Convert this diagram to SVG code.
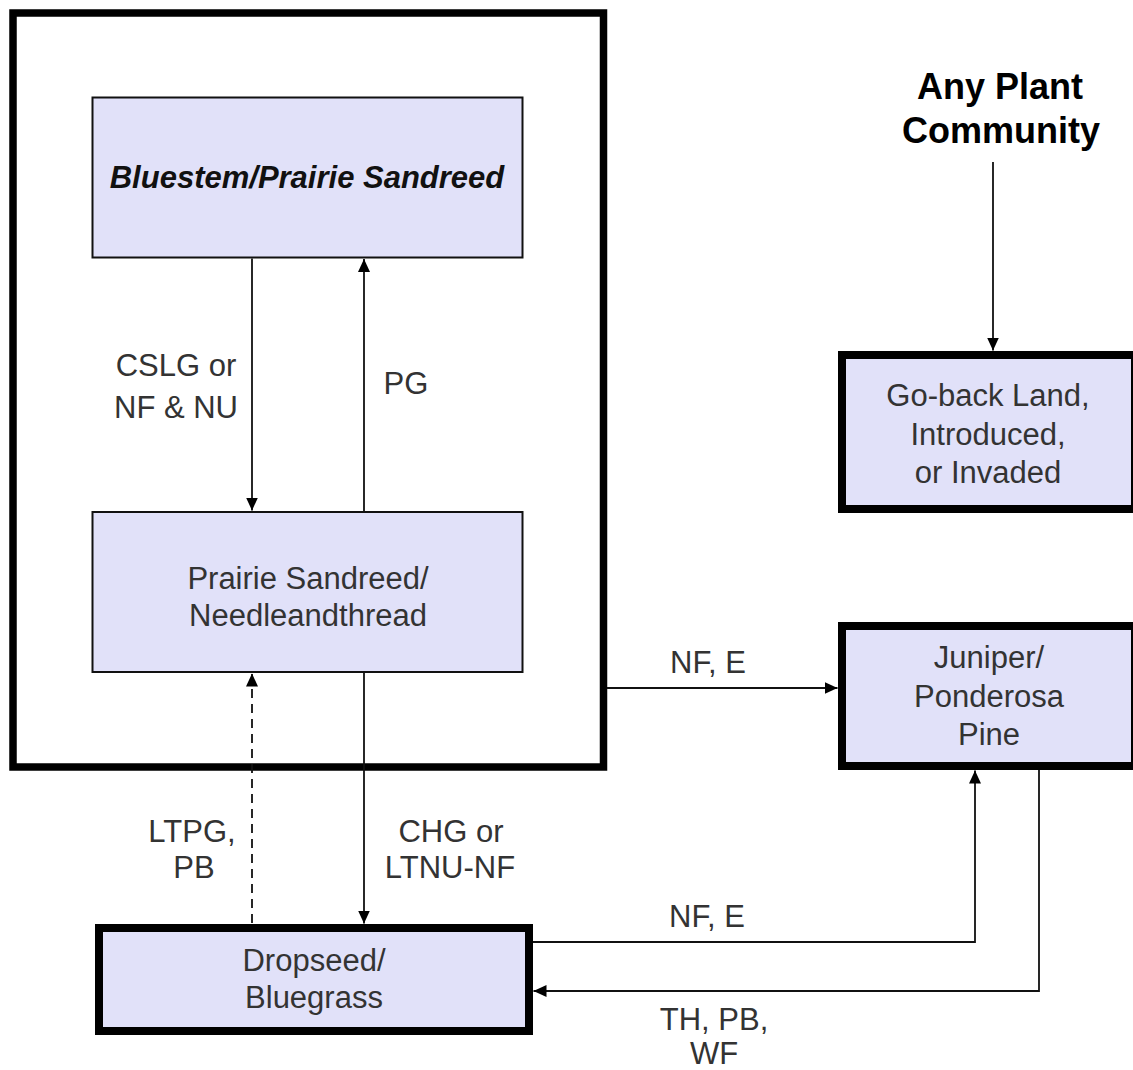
<svg xmlns="http://www.w3.org/2000/svg" width="1133" height="1070" viewBox="0 0 1133 1070">
  <style>
    .box { fill: #e1e1f9; stroke: #111; stroke-width: 2; }
    .thick { fill: #e1e1f9; stroke: #000; stroke-width: 8; }
    .frame { fill: none; stroke: #000; stroke-width: 7.5; }
    .lbl { font-family: "Liberation Sans", Arial, sans-serif; font-size: 31px; fill: #333; text-anchor: middle; }
    .title { font-family: "Liberation Sans", Arial, sans-serif; font-size: 36px; font-weight: bold; fill: #000; text-anchor: middle; }
    .it { font-style: italic; font-weight: bold; fill: #111; }
    .conn { fill: none; stroke: #111; stroke-width: 1.8; }
    .dash { stroke-dasharray: 9 6; }
  </style>
  <defs>
    <marker id="arrow" markerUnits="userSpaceOnUse" markerWidth="14" markerHeight="14" viewBox="0 0 14 14" refX="13" refY="7" orient="auto">
      <path d="M0,1 L13,7 L0,13 Z" fill="#000"/>
    </marker>
  </defs>
  <rect width="1133" height="1070" fill="#fff"/>

  <!-- state boundary around the reference communities -->
  <g id="state-frame">
    <rect class="frame" x="13" y="13" width="590.5" height="754"/>
  </g>

  <g id="bluestem">
    <rect class="box" x="92.5" y="97.5" width="430" height="160"/>
    <text class="lbl it" x="307" y="188">Bluestem/Prairie Sandreed</text>
  </g>

  <g id="prairie-sandreed">
    <rect class="box" x="92.5" y="512" width="430" height="160"/>
    <text class="lbl" x="308" y="589">Prairie Sandreed/</text>
    <text class="lbl" x="308" y="626">Needleandthread</text>
  </g>

  <g id="dropseed">
    <rect class="thick" x="99" y="928" width="430" height="103"/>
    <text class="lbl" x="314" y="971">Dropseed/</text>
    <text class="lbl" x="314" y="1008">Bluegrass</text>
  </g>

  <g id="any-plant">
    <text class="title" x="1000" y="99">Any Plant</text>
    <text class="title" x="1001" y="143">Community</text>
  </g>

  <g id="go-back">
    <rect class="thick" x="842" y="355" width="293" height="154"/>
    <text class="lbl" x="988" y="406">Go-back Land,</text>
    <text class="lbl" x="988" y="445">Introduced,</text>
    <text class="lbl" x="988" y="483">or Invaded</text>
  </g>

  <g id="juniper">
    <rect class="thick" x="842" y="626" width="293" height="140"/>
    <text class="lbl" x="989" y="668">Juniper/</text>
    <text class="lbl" x="989" y="707">Ponderosa</text>
    <text class="lbl" x="989" y="745">Pine</text>
  </g>

  <g id="connectors">
    <line class="conn" x1="252" y1="258.5" x2="252" y2="510.5" marker-end="url(#arrow)"/>
    <line class="conn" x1="364" y1="511" x2="364" y2="259" marker-end="url(#arrow)"/>
    <line class="conn" x1="364" y1="673" x2="364" y2="923.5" marker-end="url(#arrow)"/>
    <line class="conn dash" x1="252" y1="923" x2="252" y2="673.5" marker-end="url(#arrow)"/>
    <line class="conn" x1="607" y1="688" x2="837.5" y2="688" marker-end="url(#arrow)"/>
    <line class="conn" x1="993" y1="162" x2="993" y2="350.5" marker-end="url(#arrow)"/>
    <polyline class="conn" points="533,942 975,942 975,770.5" marker-end="url(#arrow)"/>
    <polyline class="conn" points="1039,770 1039,991 533.5,991" marker-end="url(#arrow)"/>
  </g>

  <g id="labels">
    <text class="lbl" x="176" y="376">CSLG or</text>
    <text class="lbl" x="176" y="418">NF &amp; NU</text>
    <text class="lbl" x="406" y="394">PG</text>
    <text class="lbl" x="192" y="842">LTPG,</text>
    <text class="lbl" x="194" y="878">PB</text>
    <text class="lbl" x="451" y="842">CHG or</text>
    <text class="lbl" x="450" y="878">LTNU-NF</text>
    <text class="lbl" x="708" y="673">NF, E</text>
    <text class="lbl" x="707" y="927">NF, E</text>
    <text class="lbl" x="714" y="1030">TH, PB,</text>
    <text class="lbl" x="714" y="1064">WF</text>
  </g>
</svg>
